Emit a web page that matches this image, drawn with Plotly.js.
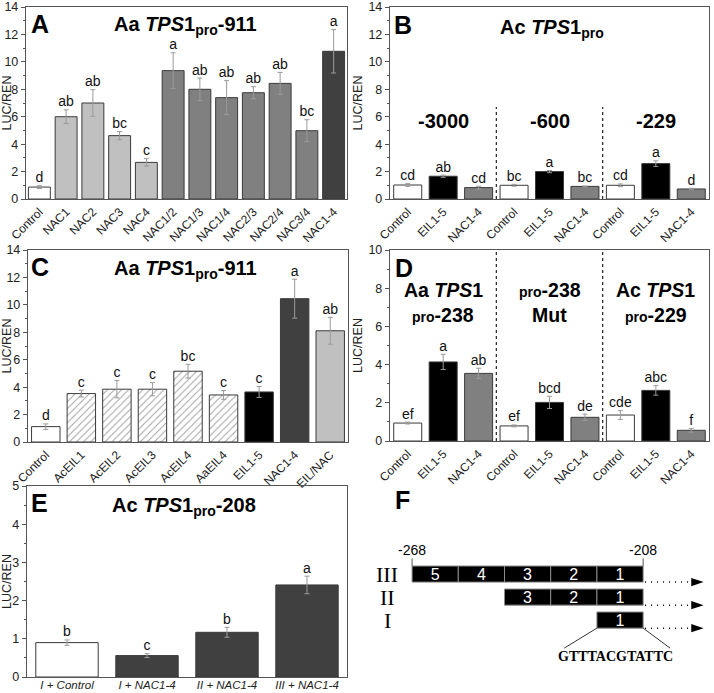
<!DOCTYPE html>
<html><head><meta charset="utf-8">
<script src="https://cdn.plot.ly/plotly-3.0.1.min.js"></script>
<style>body{margin:0;background:#fff}#g{width:714px;height:693px}</style>
</head><body><div id="g"></div>
<script>
// ---------- data ----------
const catA=['Control','NAC1','NAC2','NAC3','NAC4','NAC1/2','NAC1/3','NAC1/4','NAC2/3','NAC2/4','NAC3/4','NAC1-4'];
const valA=[0.87,6.0,7.0,4.62,2.67,9.36,8.0,7.39,7.75,8.43,4.98,10.77];
const errA=[0.1,0.5,0.97,0.3,0.27,1.3,0.82,1.24,0.44,0.8,0.8,1.58];
const sigA=['d','ab','ab','bc','c','a','ab','ab','ab','ab','bc','a'];

const catB=['Control','EIL1-5','NAC1-4','Control','EIL1-5','NAC1-4','Control','EIL1-5','NAC1-4'];
const valB=[1.02,1.66,0.83,1.0,2.0,0.92,1.0,2.58,0.73];
const errB=[0.1,0.08,0.1,0.07,0.08,0.03,0.1,0.2,0.05];
const sigB=['cd','ab','cd','bc','a','bc','cd','a','d'];
const groupB=['-3000','-600','-229'];

const catC=['Control','AcEIL1','AcEIL2','AcEIL3','AcEIL4','AaEIL4','EIL1-5','NAC1-4','EIL/NAC'];
const valC=[1.12,3.53,3.85,3.85,5.16,3.43,3.65,10.45,8.11];
const errC=[0.2,0.25,0.63,0.48,0.5,0.32,0.4,1.42,0.98];
const sigC=['d','c','c','c','bc','c','c','a','ab'];

const catD=['Control','EIL1-5','NAC1-4','Control','EIL1-5','NAC1-4','Control','EIL1-5','NAC1-4'];
const valD=[0.94,4.14,3.54,0.79,2.02,1.24,1.36,2.65,0.56];
const errD=[0.05,0.4,0.27,0.05,0.32,0.17,0.23,0.25,0.1];
const sigD=['ef','a','ab','ef','bcd','de','cde','abc','f'];

const catE=['I + Control','I + NAC1-4','II + NAC1-4','III + NAC1-4'];
const valE=[0.9,0.56,1.17,2.41];
const errE=[0.07,0.05,0.13,0.23];
const sigE=['b','c','b','a'];

// panel F schematic: fragments (bp positions)
const fragRow=[3,3,3,3,3,2,2,2,1];
const fragStart=[-268,-256,-244,-232,-220,-244,-232,-220,-220];
const fragLen=[12,12,12,12,12,12,12,12,12];
const fragLabel=['5','4','3','2','1','3','2','1','1'];
const rowNames=['III','II','I'];
const rowIdx=[3,2,1];
const endMarks=[-268,-208];
const motif='GTTTACGTATTC';

// ---------- styles ----------
const W=714,H=693;
const WHITE='#ffffff',LIGHT='#c0c0c0',MID='#808080',DARK='#404040',BLACK='#000000';
const colA=[WHITE,LIGHT,LIGHT,LIGHT,LIGHT,MID,MID,MID,MID,MID,MID,DARK];
const colB=[WHITE,BLACK,MID,WHITE,BLACK,MID,WHITE,BLACK,MID];
const colC=[WHITE,WHITE,WHITE,WHITE,WHITE,WHITE,BLACK,DARK,LIGHT];
const patC=['','/','/','/','/','/','','',''];
const colE=[WHITE,DARK,DARK,DARK];
const FONT='Liberation Sans, Arial, sans-serif';

function dx(a,b){return [a/W,b/W];}
function dy(top,bot){return [1-bot/H,1-top/H];}
const idx=n=>Array.from({length:n},(_,i)=>i);
const add=(v,e)=>v.map((x,i)=>x+e[i]);

function barTrace(x,v,e,col,xa,ya,w,pat){
  const t={type:'bar',x:x,y:v,xaxis:xa,yaxis:ya,width:w,
    marker:{color:col,line:{color:'#3a3a3a',width:1}},
    error_y:{type:'data',array:e,visible:true,color:'#9a9a9a',thickness:1,width:2.5},
    hoverinfo:'skip',showlegend:false};
  if(pat) t.marker.pattern={shape:pat,fgcolor:'#8a8a8a',bgcolor:'#ffffff',size:5,solidity:0.2,fillmode:'overlay'};
  return t;
}
function sigTrace(x,v,e,s,xa,ya){
  return {type:'scatter',mode:'text',x:x,y:add(v,e),text:s,textposition:'top center',
    textfont:{size:14,color:'#111',family:FONT},xaxis:xa,yaxis:ya,cliponaxis:false,hoverinfo:'skip',showlegend:false};
}
function xAx(dom,anchor,range,extra){
  return Object.assign({domain:dom,anchor:anchor,range:range,showline:true,mirror:true,linecolor:'#555',linewidth:1.2,
    ticks:'',tickangle:-45,tickfont:{size:12,color:'#222',family:FONT},showgrid:false,zeroline:false},extra||{});
}
function yAx(dom,anchor,range,dtick,minor){
  const a={domain:dom,anchor:anchor,range:range,dtick:dtick,showline:true,mirror:true,linecolor:'#555',linewidth:1.2,
    ticks:'outside',ticklen:4,tickcolor:'#555',tickfont:{size:12.5,color:'#222',family:FONT},showgrid:false,zeroline:false,
    title:{text:'LUC/REN',font:{size:12.5,color:'#222',family:FONT},standoff:3}};
  if(minor) a.minor={dtick:minor,ticks:'outside',ticklen:2,tickcolor:'#555'};
  return a;
}

const traces=[];
// A
traces.push(barTrace(catA,valA,errA,colA,'x','y',0.82));
traces.push(sigTrace(catA,valA,errA,sigA,'x','y'));
// B
const xB=idx(catB.length);
traces.push(barTrace(xB,valB,errB,colB,'x2','y2',0.79));
traces.push(sigTrace(xB,valB,errB,sigB,'x2','y2'));
// C
traces.push(barTrace(catC,valC,errC,colC,'x3','y3',0.8,patC));
traces.push(sigTrace(catC,valC,errC,sigC,'x3','y3'));
// D
const xD=idx(catD.length);
traces.push(barTrace(xD,valD,errD,colB,'x4','y4',0.79));
traces.push(sigTrace(xD,valD,errD,sigD,'x4','y4'));
// E
traces.push(barTrace(catE,valE,errE,colE,'x5','y5',0.78));
traces.push(sigTrace(catE,valE,errE,sigE,'x5','y5'));
// F fragments
traces.push({type:'bar',orientation:'h',y:fragRow,x:fragLen,base:fragStart,text:fragLabel,
  textposition:'inside',insidetextanchor:'middle',textangle:0,constraintext:'none',
  insidetextfont:{color:'#fff',size:16,family:FONT},
  width:0.7,marker:{color:'#000',line:{color:'#8a8a8a',width:1}},xaxis:'x6',yaxis:'y6',hoverinfo:'skip',showlegend:false});
// F end-mark ticks
endMarks.forEach(p=>{
  traces.push({type:'scatter',mode:'lines',x:[p,p],y:[3.35,3.68],line:{color:'#555',width:1},xaxis:'x6',yaxis:'y6',hoverinfo:'skip',showlegend:false});
});
// F dotted arrows
rowIdx.forEach(r=>{
  traces.push({type:'scatter',mode:'lines',x:[-207.5,-192.5],y:[r-0.35,r-0.35],line:{color:'#000',width:1.5,dash:'1px,5px'},xaxis:'x6',yaxis:'y6',hoverinfo:'skip',showlegend:false});
  traces.push({type:'scatter',mode:'markers',x:[-192.3],y:[r-0.35],marker:{symbol:'arrow',angle:90,size:13,color:'#000'},xaxis:'x6',yaxis:'y6',hoverinfo:'skip',showlegend:false});
});
// F connector lines
traces.push({type:'scatter',mode:'lines',x:[-220,-228.5],y:[0.65,-0.22],line:{color:'#333',width:1},xaxis:'x6',yaxis:'y6',hoverinfo:'skip',showlegend:false});
traces.push({type:'scatter',mode:'lines',x:[-208,-201],y:[0.65,-0.22],line:{color:'#333',width:1},xaxis:'x6',yaxis:'y6',hoverinfo:'skip',showlegend:false});

const ann=[];
function pann(text,x,y,size,extra){
  ann.push(Object.assign({text:text,x:x/W,y:1-y/H,xref:'paper',yref:'paper',showarrow:false,
    font:{size:size,color:'#000',family:FONT},xanchor:'center',yanchor:'middle'},extra||{}));
}
// panel letters
pann('<b>A</b>',40,24,25); pann('<b>B</b>',403,25,25); pann('<b>C</b>',40,267,25);
pann('<b>D</b>',404,268,25); pann('<b>E</b>',39,503,25); pann('<b>F</b>',402,500,25);
// titles
pann('<b>Aa <i>TPS</i>1<sub>pro</sub>-911</b>',185,26,20);
pann('<b>Ac <i>TPS</i>1<sub>pro</sub></b>',552,29,20);
pann('<b>Aa <i>TPS</i>1<sub>pro</sub>-911</b>',185,269,20);
pann('<b>Ac <i>TPS</i>1<sub>pro</sub>-208</b>',184,506,20);
// B group labels
groupB.forEach((g,i)=>{
  ann.push({text:'<b>'+g+'</b>',x:1+3*i,y:5.72,xref:'x2',yref:'y2',showarrow:false,font:{size:20,color:'#000',family:FONT}});
});
// D group labels
const dTop=['<b>Aa <i>TPS</i>1</b>','<b><span style="font-size:14px">pro</span>-238</b>','<b>Ac <i>TPS</i>1</b>'];
const dBot=['<b><span style="font-size:14px">pro</span>-238</b>','<b>Mut</b>','<b><span style="font-size:14px">pro</span>-229</b>'];
dTop.forEach((t,i)=>{
  ann.push({text:t,x:1+3*i,y:7.9,xref:'x4',yref:'y4',showarrow:false,font:{size:19.5,color:'#000',family:FONT}});
  ann.push({text:dBot[i],x:1+3*i,y:6.6,xref:'x4',yref:'y4',showarrow:false,font:{size:19.5,color:'#000',family:FONT}});
});
// F labels
rowNames.forEach((r,i)=>{
  ann.push({text:r,x:-274.5,y:rowIdx[i],xref:'x6',yref:'y6',showarrow:false,
    font:{size:22,color:'#000',family:'Liberation Serif, Times New Roman, serif'}});
});
endMarks.forEach(p=>{
  ann.push({text:String(p),x:p,y:3.62,xref:'x6',yref:'y6',showarrow:false,yanchor:'bottom',
    font:{size:14,color:'#000',family:FONT}});
});
ann.push({text:'<b>'+motif+'</b>',x:-215.3,y:-0.6,xref:'x6',yref:'y6',showarrow:false,
  font:{size:14,color:'#000',family:'Liberation Serif, Times New Roman, serif'}});

const shapes=[];
[2.5,5.5].forEach(p=>{
  shapes.push({type:'line',xref:'x2',yref:'y2',x0:p,x1:p,y0:0,y1:6.7,line:{color:'#222',width:1.2,dash:'3px,3px'}});
  shapes.push({type:'line',xref:'x4',yref:'y4',x0:p,x1:p,y0:0,y1:10,line:{color:'#222',width:1.2,dash:'3px,3px'}});
});

const layout={width:W,height:H,margin:{l:0,r:0,t:0,b:0},paper_bgcolor:'#fff',plot_bgcolor:'#fff',
  barmode:'overlay',showlegend:false,font:{family:FONT,color:'#222'},
  xaxis:xAx(dx(26,347),'y',[-0.5,11.5]),
  yaxis:yAx(dy(7,199),'x',[0,14],2,1),
  xaxis2:xAx(dx(390,709),'y2',[-0.5,8.5],{tickmode:'array',tickvals:xB,ticktext:catB}),
  yaxis2:yAx(dy(7,199),'x2',[0,14],2,1),
  xaxis3:xAx(dx(28,348),'y3',[-0.5,8.5]),
  yaxis3:yAx(dy(250,442),'x3',[0,14],2,1),
  xaxis4:xAx(dx(390,709),'y4',[-0.5,8.5],{tickmode:'array',tickvals:xD,ticktext:catD}),
  yaxis4:yAx(dy(250,441),'x4',[0,10],2,1),
  xaxis5:xAx(dx(27,347),'y5',[-0.5,3.5],{tickangle:0,tickmode:'array',tickvals:catE,ticktext:catE.map(s=>'<i>'+s+'</i>'),
    ticklabelstandoff:-3,tickfont:{size:11.5,color:'#222',family:FONT}}),
  yaxis5:yAx(dy(486,677),'x5',[0,5],1,0.5),
  xaxis6:{domain:[0.5,1],anchor:'y6',range:[-282.3,-189.6],visible:false,fixedrange:true},
  yaxis6:{domain:[0,1-500/H],anchor:'x6',range:[-2.17,6.22],visible:false,fixedrange:true},
  annotations:ann,shapes:shapes};

Plotly.newPlot('g',traces,layout,{staticPlot:true,displayModeBar:false});
</script></body></html>
